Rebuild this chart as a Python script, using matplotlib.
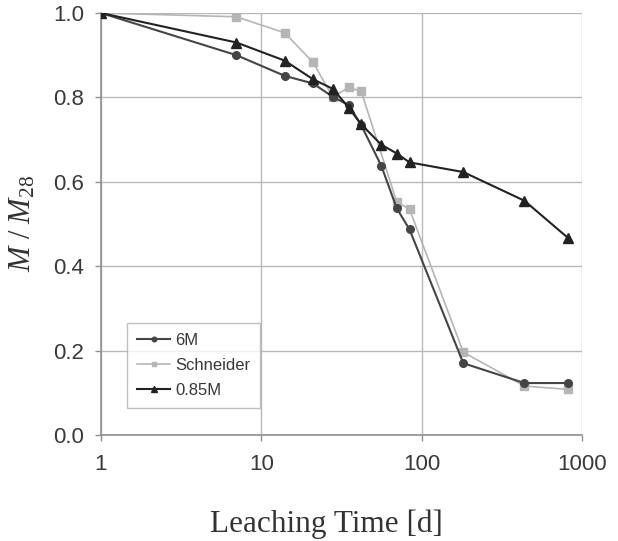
import matplotlib
matplotlib.use("Agg")
import matplotlib.pyplot as plt

time_6m = [1, 7, 14, 21, 28, 35, 42, 56, 70, 84, 182, 438, 818]
val_6m = [1.0, 0.900, 0.851, 0.833, 0.801, 0.782, 0.734, 0.638, 0.537, 0.487, 0.170, 0.123, 0.123]

time_sch = [1, 7, 14, 21, 28, 35, 42, 70, 84, 182, 438, 818]
val_sch = [1.0, 0.991, 0.953, 0.883, 0.800, 0.824, 0.814, 0.552, 0.535, 0.196, 0.116, 0.108]

time_085 = [1, 7, 14, 21, 28, 35, 42, 56, 70, 84, 182, 438, 818]
val_085 = [1.0, 0.930, 0.887, 0.843, 0.820, 0.776, 0.736, 0.688, 0.667, 0.646, 0.623, 0.555, 0.467]

x_ticks = [1, 10, 100, 1000]
x_ticklabels = ["1", "10", "100", "1000"]
y_ticks = [0.0, 0.2, 0.4, 0.6, 0.8, 1.0]

plt.rcParams['mathtext.fontset'] = 'custom'
plt.rcParams['mathtext.rm'] = 'Liberation Serif'
plt.rcParams['mathtext.it'] = 'Liberation Serif:italic'

fig = plt.figure(figsize=(6.18, 5.41), dpi=100)
ax = fig.add_axes([0.1634, 0.196, 0.7783, 0.780])

ax.plot(time_6m, val_6m, color='#454545', lw=1.5, marker='o', ms=5.5, label='6M', zorder=3)
ax.plot(time_sch, val_sch, color='#b5b5b5', lw=1.2, marker='s', ms=5.5, label='Schneider', zorder=2)
ax.plot(time_085, val_085, color='#222222', lw=1.5, marker='^', ms=7, label='0.85M', zorder=4)

ax.set_xscale('log')
ax.set_xlim(1, 1000)
ax.set_ylim(0, 1.0)
ax.set_xticks(x_ticks)
ax.set_xticklabels(x_ticklabels)
ax.minorticks_off()
ax.set_yticks(y_ticks)
ax.set_yticklabels([f"{v:.1f}" for v in y_ticks])

ax.grid(True, color='#b8b8b8', lw=1.0)
ax.set_axisbelow(True)
for side in ['top', 'right']:
    ax.spines[side].set_visible(False)
for side in ['left', 'bottom']:
    ax.spines[side].set_color('#909090')
    ax.spines[side].set_linewidth(1.2)

ax.tick_params(axis='both', colors='#909090', length=4, width=1, labelcolor='#3a3a3a',
               labelsize=16)
for lbl in ax.get_xticklabels() + ax.get_yticklabels():
    lbl.set_family('Liberation Sans')
ax.tick_params(axis='x', pad=10)
ax.tick_params(axis='y', pad=8)

ax.set_xlabel('Leaching Time [d]', family='Liberation Serif', fontsize=22.5, color='#333333')
ax.xaxis.set_label_coords(0.468, -0.176)
ax.set_ylabel(r'$M\ /\ M_{\mathrm{28}}$', fontsize=22, color='#333333')
ax.yaxis.set_label_coords(-0.132, 0.5)

leg = ax.legend(loc='lower left', bbox_to_anchor=(0.054, 0.064), borderaxespad=0,
                prop={'family': 'Liberation Sans', 'size': 12},
                frameon=True, fancybox=False, edgecolor='#b0b0b0', handlelength=2.0, borderpad=0.6,
                labelspacing=0.6, handletextpad=0.3, markerscale=0.6)
leg.get_frame().set_linewidth(1.0)
for t in leg.get_texts():
    t.set_color('#383838')

fig.savefig('out.png', dpi=100, facecolor='white')
